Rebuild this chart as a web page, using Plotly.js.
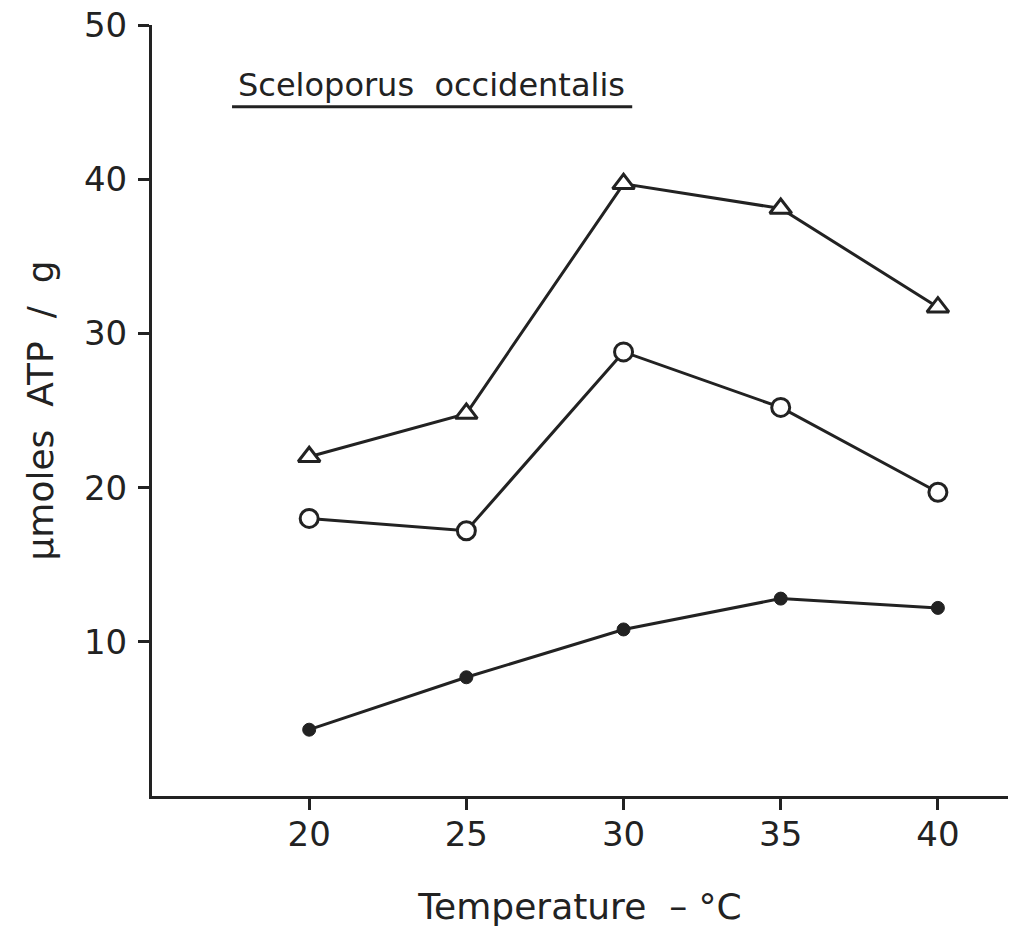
<!DOCTYPE html>
<html>
<head>
<meta charset="utf-8">
<script src="https://cdn.plot.ly/plotly-3.0.1.min.js"></script>
<style>
html,body{margin:0;padding:0;background:#fff;}
#chart{width:1015px;height:933px;}
</style>
</head>
<body>
<div id="chart"></div>
<script>
const temperature = [20, 25, 30, 35, 40];
const triangleSeries = [22.0, 24.8, 39.7, 38.1, 31.7];
const openCircleSeries = [18.0, 17.2, 28.8, 25.2, 19.7];
const filledCircleSeries = [4.3, 7.7, 10.8, 12.8, 12.2];
const xTickVals = [20, 25, 30, 35, 40];
const yTickVals = [10, 20, 30, 40, 50];
const speciesLabel = "Sceloporus  occidentalis";

const ink = "#222222";
const FONT = "DejaVu Sans, sans-serif";

const traces = [
  {
    x: temperature, y: triangleSeries, mode: "lines+markers", type: "scatter",
    line: {color: ink, width: 3},
    marker: {symbol: "triangle-up", size: 19, color: "#ffffff", line: {color: ink, width: 3}},
    hoverinfo: "x+y"
  },
  {
    x: temperature, y: openCircleSeries, mode: "lines+markers", type: "scatter",
    line: {color: ink, width: 3},
    marker: {symbol: "circle", size: 18, color: "#ffffff", line: {color: ink, width: 3}},
    hoverinfo: "x+y"
  },
  {
    x: temperature, y: filledCircleSeries, mode: "lines+markers", type: "scatter",
    line: {color: ink, width: 3},
    marker: {symbol: "circle", size: 13, color: ink, line: {color: ink, width: 1}},
    hoverinfo: "x+y"
  }
];

const layout = {
  width: 1015, height: 933,
  margin: {l: 152, r: 7, t: 25, b: 137, autoexpand: false},
  paper_bgcolor: "#ffffff", plot_bgcolor: "#ffffff",
  showlegend: false,
  font: {family: FONT, color: ink},
  xaxis: {
    range: [15, 42.23], tickvals: xTickVals, ticktext: xTickVals.map(String),
    showline: true, linecolor: ink, linewidth: 3, mirror: false,
    ticks: "outside", ticklen: 11, tickwidth: 3, tickcolor: ink,
    ticklabelstandoff: -5,
    showgrid: false, zeroline: false,
    tickfont: {family: FONT, size: 34, color: ink},
    title: {text: "Temperature  – °C", font: {family: FONT, size: 36, color: ink}, standoff: 42},
    automargin: false
  },
  yaxis: {
    range: [0, 50], tickvals: yTickVals, ticktext: yTickVals.map(String),
    showline: true, linecolor: ink, linewidth: 3, mirror: false,
    ticks: "outside", ticklen: 11, tickwidth: 3, tickcolor: ink,
    ticklabelstandoff: 4,
    showgrid: false, zeroline: false,
    tickfont: {family: FONT, size: 34, color: ink},
    title: {text: "µmoles  ATP  /  g", font: {family: FONT, size: 36, color: ink}, standoff: 20},
    automargin: false
  },
  annotations: [
    {
      xref: "paper", yref: "paper", x: 0.327, y: 0.922,
      xanchor: "center", yanchor: "middle", showarrow: false,
      text: speciesLabel, font: {family: FONT, size: 32, color: ink}
    }
  ],
  shapes: [
    {type: "line", xref: "paper", yref: "paper", x0: 0.0935, x1: 0.561, y0: 0.894, y1: 0.894,
     line: {color: ink, width: 3}}
  ]
};

Plotly.newPlot("chart", traces, layout, {displayModeBar: false, staticPlot: true});
</script>
</body>
</html>
